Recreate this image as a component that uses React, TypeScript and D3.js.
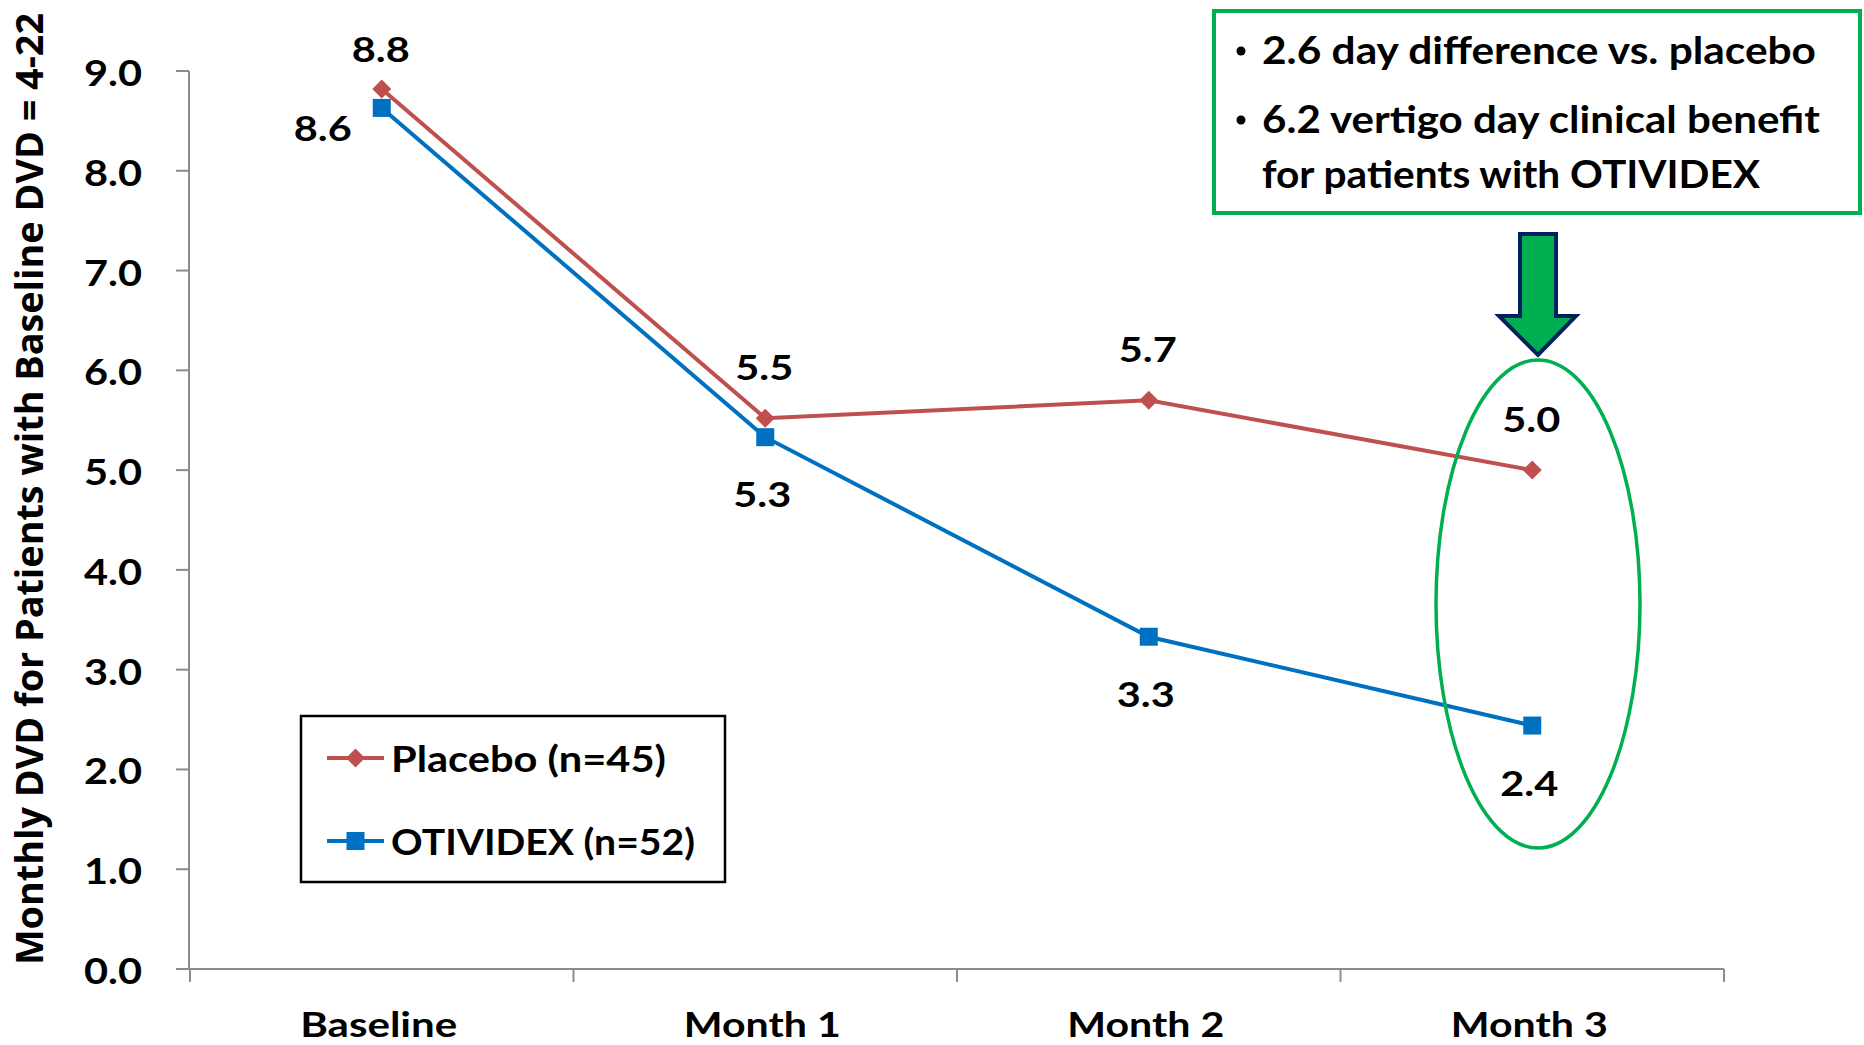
import React from "react";
import * as d3 from "d3";

const categories = ["Baseline", "Month 1", "Month 2", "Month 3"];
const placeboValues = [8.82, 5.52, 5.7, 5.0];
const otividexValues = [8.63, 5.33, 3.33, 2.44];
const placeboLabelPos = ["above", "above", "above", "above"];
const otividexLabelPos = ["left", "below", "below", "below"];
const yTicks = [0, 1, 2, 3, 4, 5, 6, 7, 8, 9];
const seriesNames = ["Placebo (n=45)", "OTIVIDEX (n=52)"];
const annotationLines = [
  "2.6 day difference vs. placebo",
  "6.2 vertigo day clinical benefit",
  "for patients with OTIVIDEX",
];
const yTitle = "Monthly DVD for Patients with Baseline DVD = 4-22";

const W = 1864;
const H = 1045;
const FONT = "Lato, 'Open Sans', sans-serif";
const RED = "#C0504D";
const BLUE = "#0070C0";
const GREEN = "#00B050";
const NAVY = "#002060";
const GREY = "#8C8C8C";

export default function App() {
  const x = d3.scaleBand<string>().domain(categories).range([190, 1724]);
  const y = d3.scaleLinear().domain([0, 9]).range([969, 71]);
  const bw = x.bandwidth();
  const cx = (i: number) => (x(categories[i]) as number) + bw / 2;
  const line = d3
    .line<number>()
    .x((_, i) => cx(i))
    .y((d) => y(d));

  const diamond = (px: number, py: number, r = 9.5) =>
    `M${px},${py - r}L${px + r},${py}L${px},${py + r}L${px - r},${py}Z`;

  const labelFor = (v: number, i: number, pos: string) => {
    const px = cx(i);
    const py = y(v);
    if (pos === "above")
      return { tx: px - 1, ty: Math.max(py - 38, 62), anchor: "middle" };
    if (pos === "below") return { tx: px - 3, ty: py + 70, anchor: "middle" };
    return { tx: px - 30, ty: py + 33, anchor: "end" };
  };

  const xBounds = [...categories.map((c) => x(c) as number), 1724];

  return (
    <div style={{ position: "fixed", left: 0, top: 0 }}>
      <svg width={W} height={H} style={{ display: "block", background: "#fff" }}>
        <rect x={0} y={0} width={W} height={H} fill="#fff" />
        {/* y axis */}
        <line x1={189} x2={189} y1={y(9)} y2={y(0)} stroke={GREY} strokeWidth={2} />
        {yTicks.map((t) => (
          <g key={t}>
            <line x1={176} x2={189} y1={y(t)} y2={y(t)} stroke={GREY} strokeWidth={2} />
            <text
              x={142}
              y={y(t) + 15}
              textAnchor="end"
              fontFamily={FONT}
              fontWeight={700}
              fontSize={36}
              textLength={58}
              lengthAdjust="spacingAndGlyphs"
              fill="#000"
            >
              {t.toFixed(1)}
            </text>
          </g>
        ))}
        {/* x axis */}
        <line x1={189} x2={1724} y1={y(0)} y2={y(0)} stroke={GREY} strokeWidth={2} />
        {xBounds.map((b, i) => (
          <line key={i} x1={b} x2={b} y1={y(0)} y2={y(0) + 13} stroke={GREY} strokeWidth={2} />
        ))}
        {categories.map((c, i) => (
          <text
            key={c}
            x={cx(i) - 3}
            y={1037}
            textAnchor="middle"
            fontFamily={FONT}
            fontWeight={700}
            fontSize={35}
            textLength={157}
            lengthAdjust="spacingAndGlyphs"
          >
            {c}
          </text>
        ))}
        {/* y title */}
        <text
          transform={`translate(43,489) rotate(-90)`}
          textAnchor="middle"
          fontFamily="'Open Sans', sans-serif"
          fontWeight={700}
          fontSize={37}
          textLength={952}
          lengthAdjust="spacingAndGlyphs"
        >
          {yTitle}
        </text>

        {/* series */}
        <path d={line(placeboValues) || ""} fill="none" stroke={RED} strokeWidth={4} />
        <path d={line(otividexValues) || ""} fill="none" stroke={BLUE} strokeWidth={4} />
        {placeboValues.map((v, i) => (
          <path key={"pm" + i} d={diamond(cx(i), y(v))} fill={RED} />
        ))}
        {otividexValues.map((v, i) => (
          <rect key={"om" + i} x={cx(i) - 9} y={y(v) - 9} width={18} height={18} fill={BLUE} />
        ))}
        {placeboValues.map((v, i) => {
          const l = labelFor(v, i, placeboLabelPos[i]);
          return (
            <text
              key={"pl" + i}
              x={l.tx}
              y={l.ty}
              textAnchor={l.anchor as any}
              fontFamily={FONT}
              fontWeight={700}
              fontSize={35}
              textLength={58}
              lengthAdjust="spacingAndGlyphs"
            >
              {v.toFixed(1)}
            </text>
          );
        })}
        {otividexValues.map((v, i) => {
          const l = labelFor(v, i, otividexLabelPos[i]);
          return (
            <text
              key={"ol" + i}
              x={l.tx}
              y={l.ty}
              textAnchor={l.anchor as any}
              fontFamily={FONT}
              fontWeight={700}
              fontSize={35}
              textLength={58}
              lengthAdjust="spacingAndGlyphs"
            >
              {v.toFixed(1)}
            </text>
          );
        })}

        {/* legend */}
        <rect x={301} y={716} width={424} height={166} fill="#fff" stroke="#000" strokeWidth={2.5} />
        <line x1={327} x2={384} y1={758} y2={758} stroke={RED} strokeWidth={4} />
        <path d={diamond(355.5, 758)} fill={RED} />
        <text x={391} y={772} fontFamily={FONT} fontWeight={700} fontSize={37} textLength={275} lengthAdjust="spacingAndGlyphs">
          {seriesNames[0]}
        </text>
        <line x1={327} x2={384} y1={841} y2={841} stroke={BLUE} strokeWidth={4} />
        <rect x={355.5 - 9} y={841 - 9} width={18} height={18} fill={BLUE} />
        <text x={391} y={855} fontFamily={FONT} fontWeight={700} fontSize={37} textLength={304} lengthAdjust="spacingAndGlyphs">
          {seriesNames[1]}
        </text>

        {/* annotation box */}
        <rect x={1214} y={11} width={646} height={202} fill="#fff" stroke={GREEN} strokeWidth={4} />
        {[
          { t: annotationLines[0], by: 64, len: 554, bullet: true },
          { t: annotationLines[1], by: 133, len: 558, bullet: true },
          { t: annotationLines[2], by: 188, len: 498, bullet: false },
        ].map((l, i) => (
          <g key={i}>
            {l.bullet && <circle cx={1241} cy={l.by - 13} r={4.5} fill="#000" />}
            <text
              x={1262}
              y={l.by}
              fontFamily={FONT}
              fontWeight={700}
              fontSize={38}
              textLength={l.len}
              lengthAdjust="spacingAndGlyphs"
            >
              {l.t}
            </text>
          </g>
        ))}

        {/* arrow */}
        <polygon
          points="1520,234 1556,234 1556,316 1576,316 1538,355 1499,316 1520,316"
          fill={GREEN}
          stroke={NAVY}
          strokeWidth={4}
          strokeLinejoin="miter"
        />
        {/* ellipse */}
        <ellipse cx={1538} cy={604} rx={102} ry={244} fill="none" stroke={GREEN} strokeWidth={3.5} />
      </svg>
    </div>
  );
}
